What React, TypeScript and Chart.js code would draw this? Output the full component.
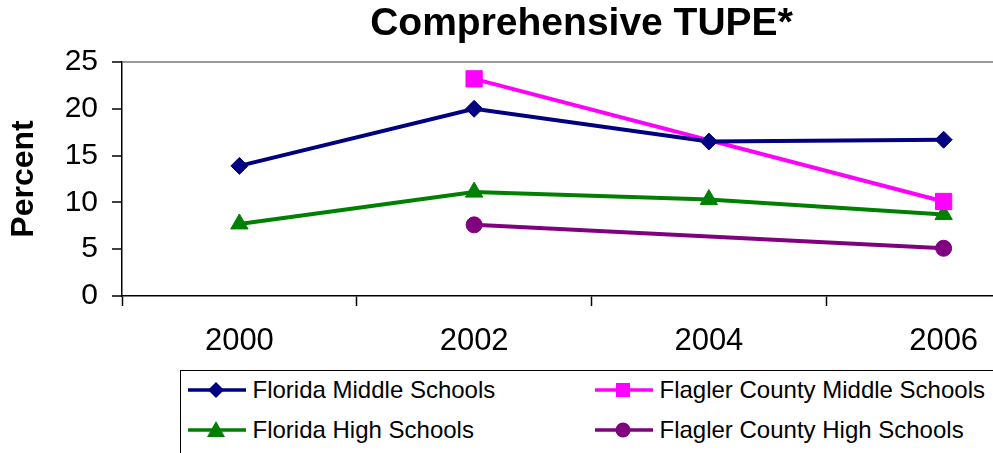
import React, { useEffect, useRef } from "react";
import { Chart, registerables } from "chart.js";

Chart.register(...registerables);

// ---- data ----
const years = ["2000", "2002", "2004", "2006"];
const floridaMiddle = [13.9, 20.0, 16.5, 16.7];
const flaglerMiddle = [null, 23.2, null, 10.1];
const floridaHigh = [7.7, 11.1, 10.3, 8.7];
const flaglerHigh = [null, 7.6, null, 5.1];
const yMin = 0;
const yMax = 25;
const yStep = 5;

const seriesLabels = [
  "Florida Middle Schools",
  "Flagler County Middle Schools",
  "Florida High Schools",
  "Flagler County High Schools",
];
const seriesData = [floridaMiddle, flaglerMiddle, floridaHigh, flaglerHigh];
const seriesColors = ["#000080", "#FF00FF", "#008000", "#800080"];
const seriesMarkers = ["rectRot", "rect", "triangle", "circle"];
const markerRadius = [8.5, 11.5, 10, 8];

const titleText = "Comprehensive TUPE*";
const yTitle = "Percent";

const FONT = "'Liberation Sans', Arial, Helvetica, sans-serif";

function LegendMarker({ kind, color }: { kind: string; color: string }) {
  const cx = 28;
  const cy = 12;
  let shape: any = null;
  if (kind === "rectRot") {
    shape = <polygon points={`${cx},${cy - 8} ${cx + 8},${cy} ${cx},${cy + 8} ${cx - 8},${cy}`} fill={color} />;
  } else if (kind === "rect") {
    shape = <rect x={cx - 7} y={cy - 7} width={14} height={14} fill={color} />;
  } else if (kind === "triangle") {
    shape = <polygon points={`${cx},${cy - 9} ${cx + 9},${cy + 7} ${cx - 9},${cy + 7}`} fill={color} />;
  } else {
    shape = <circle cx={cx} cy={cy} r={7.5} fill={color} />;
  }
  return (
    <svg width={60} height={24} style={{ position: "absolute", left: 0, top: -12 }}>
      <line x1={0} y1={cy} x2={58} y2={cy} stroke={color} strokeWidth={3.5} />
      {shape}
    </svg>
  );
}

export default function App() {
  const canvasRef = useRef<HTMLCanvasElement | null>(null);

  useEffect(() => {
    const canvas = canvasRef.current;
    if (!canvas) return;
    const chart = new Chart(canvas, {
      type: "line",
      data: {
        labels: years,
        datasets: seriesLabels.map((label, i) => ({
          label,
          data: seriesData[i],
          borderColor: seriesColors[i],
          backgroundColor: seriesColors[i],
          borderWidth: 4,
          pointStyle: seriesMarkers[i] as any,
          pointRadius: markerRadius[i],
          pointBorderWidth: 1,
          pointBorderColor: seriesColors[i],
          pointBackgroundColor: seriesColors[i],
          spanGaps: true,
          tension: 0,
          yAxisID: "y",
        })),
      },
      options: {
        responsive: false,
        animation: false,
        layout: { padding: 0 },
        plugins: {
          legend: { display: false },
          tooltip: { enabled: false },
          title: {
            display: true,
            text: titleText,
            color: "#000",
            font: { family: FONT, size: 39, weight: "bold" },
            padding: { top: 0.5, bottom: 14.7 },
          },
        },
        scales: {
          x: {
            type: "category",
            offset: true,
            grid: {
              offset: true,
              drawOnChartArea: false,
              drawTicks: true,
              tickLength: 10,
              tickColor: "#000",
              tickWidth: 1.5,
            },
            border: { display: true, color: "#000", width: 1.5 },
            ticks: {
              color: "#000",
              font: { family: FONT, size: 31 },
              padding: 16.7,
              maxRotation: 0,
              autoSkip: false,
            },
            afterFit: (s: any) => {
              s.height = 157;
            },
          },
          y: {
            type: "linear",
            position: "left",
            min: yMin,
            max: yMax,
            ticks: {
              stepSize: yStep,
              color: "#000",
              font: { family: FONT, size: 30 },
              padding: 14,
            },
            grid: {
              color: (ctx: any) => (ctx.tick && ctx.tick.value === yMax ? "#9a9a9a" : "rgba(0,0,0,0)"),
              lineWidth: 2,
              drawTicks: true,
              tickLength: 10,
              tickColor: "#000",
              tickWidth: 1.5,
            },
            border: { display: true, color: "#000", width: 1.5 },
            title: {
              display: true,
              text: yTitle,
              color: "#000",
              font: { family: FONT, size: 32, weight: "bold" },
              padding: { top: 5, bottom: 0 },
            },
            afterFit: (s: any) => {
              s.width = 122;
            },
          },
          y2: {
            type: "linear",
            position: "right",
            display: true,
            grid: { display: false },
            ticks: { display: false },
            border: { display: false },
            afterFit: (s: any) => {
              s.width = 102;
            },
          },
        },
      } as any,
    });
    return () => chart.destroy();
  }, []);

  const colX = [188, 595];
  const rowY = [390, 430];
  const boxLeft = 180;
  const boxTop = 370;

  return (
    <div
      style={{
        position: "fixed",
        left: 0,
        top: 0,
        width: 993,
        height: 453,
        overflow: "hidden",
        background: "#fff",
      }}
    >
      <canvas
        ref={canvasRef}
        width={1163}
        height={453}
        style={{ position: "absolute", left: 0, top: 0, width: 1163, height: 453 }}
      />
      <div
        style={{
          position: "absolute",
          left: boxLeft,
          top: boxTop,
          width: 900,
          height: 120,
          border: "1.5px solid #000",
          boxSizing: "border-box",
          background: "#fff",
        }}
      >
        {seriesLabels.map((label, i) => {
          const col = i % 2;
          const row = Math.floor(i / 2);
          const x0 = colX[col] - boxLeft - 1.5;
          const cy = rowY[row] - boxTop - 1.5;
          return (
            <div key={label} style={{ position: "absolute", left: x0, top: cy, height: 0 }}>
              <LegendMarker kind={seriesMarkers[i]} color={seriesColors[i]} />
              <span
                style={{
                  position: "absolute",
                  left: 65,
                  top: -14,
                  height: 28,
                  lineHeight: "28px",
                  whiteSpace: "nowrap",
                  fontFamily: FONT,
                  fontSize: 24,
                  color: "#000",
                }}
              >
                {label}
              </span>
            </div>
          );
        })}
      </div>
    </div>
  );
}
